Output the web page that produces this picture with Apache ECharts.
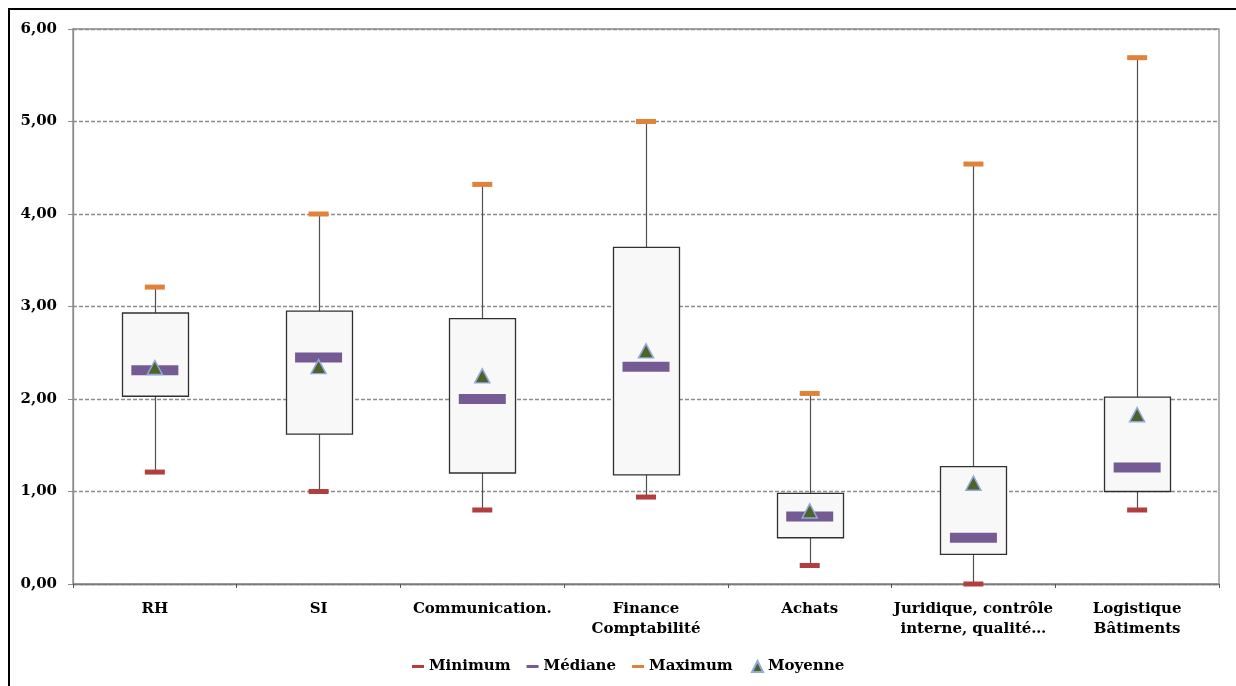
<!DOCTYPE html>
<html>
<head>
<meta charset="utf-8">
<script src="https://cdn.jsdelivr.net/npm/echarts@6/dist/echarts.min.js"></script>
<style>
html,body{margin:0;padding:0;background:#fff;}
#c{width:1236px;height:686px;}
</style>
</head>
<body>
<div id="c"></div>
<script>
var categories = ['RH', 'SI', 'Communication.', 'Finance\nComptabilité', 'Achats', 'Juridique, contrôle\ninterne, qualité…', 'Logistique\nBâtiments'];
var minimum = [1.21, 1.00, 0.80, 0.94, 0.20, 0.00, 0.80];
var q1 = [2.03, 1.62, 1.20, 1.18, 0.50, 0.32, 1.00];
var mediane = [2.31, 2.45, 2.00, 2.35, 0.73, 0.50, 1.26];
var q3 = [2.93, 2.95, 2.87, 3.64, 0.98, 1.27, 2.02];
var maximum = [3.21, 4.00, 4.32, 5.00, 2.06, 4.54, 5.69];
var moyenne = [2.34, 2.35, 2.25, 2.52, 0.79, 1.09, 1.83];
var yTicks = [0, 1, 2, 3, 4, 5, 6];

var FONT = '"DejaVu Serif", serif';
var boxData = categories.map(function (c, i) { return [i, minimum[i], q1[i], q3[i], maximum[i]]; });

var chart = echarts.init(document.getElementById('c'), null, {renderer: 'canvas'});
chart.setOption({
  animation: false,
  backgroundColor: '#ffffff',
  graphic: [{
    type: 'rect', shape: {x: 9, y: 9, width: 1400, height: 900},
    style: {fill: 'none', stroke: '#000', lineWidth: 2}, z: 100, silent: true
  }],
  grid: {left: 73, right: 17, top: 29, bottom: 102, show: true, borderColor: '#8c8c8c', borderWidth: 1.3},
  legend: [{
    data: ['Minimum', 'Médiane', 'Maximum'],
    left: 412, top: 659, padding: 0, itemWidth: 12, itemHeight: 3, itemGap: 16,
    icon: 'rect',
    textStyle: {fontFamily: FONT, fontWeight: 'bold', fontSize: 15, color: '#000'}
  }, {
    data: ['Moyenne'],
    left: 751, top: 659, padding: 0, itemWidth: 11, itemHeight: 11,
    icon: 'triangle',
    textStyle: {fontFamily: FONT, fontWeight: 'bold', fontSize: 15, color: '#000'}
  }],
  xAxis: {
    type: 'category', data: categories,
    axisLine: {lineStyle: {color: '#7a7a7a', width: 1.3}},
    axisTick: {show: true, length: 4, lineStyle: {color: '#555'}},
    axisLabel: {fontFamily: FONT, fontWeight: 'bold', fontSize: 15, color: '#000', margin: 15, lineHeight: 20, interval: 0},
    splitLine: {show: false}
  },
  yAxis: {
    type: 'value', min: 0, max: 6, interval: 1,
    axisLine: {show: true, lineStyle: {color: '#8c8c8c', width: 1.3}},
    axisTick: {show: true, length: 5, lineStyle: {color: '#8c8c8c'}},
    axisLabel: {fontFamily: FONT, fontWeight: 'bold', fontSize: 15, color: '#000', margin: 16,
      formatter: function (v) { return v.toFixed(2).replace('.', ','); }},
    splitLine: {show: true, lineStyle: {color: '#8c8c8c', type: [4, 2], width: 1.3}}
  },
  series: [{
    type: 'custom', name: 'box', data: boxData, z: 1,
    renderItem: function (params, api) {
      var i = api.value(0);
      var pMin = api.coord([i, api.value(1)]);
      var pQ1 = api.coord([i, api.value(2)]);
      var pQ3 = api.coord([i, api.value(3)]);
      var pMax = api.coord([i, api.value(4)]);
      var w = 66;
      var x = Math.round(pMin[0]) + 0.5;
      return {
        type: 'group', children: [{
          type: 'line', shape: {x1: x, y1: pMin[1], x2: x, y2: pMax[1]},
          style: {stroke: '#505050', lineWidth: 1.2}
        }, {
          type: 'rect', shape: {x: Math.round(pQ3[0] - w / 2) + 0.5, y: pQ3[1], width: w, height: pQ1[1] - pQ3[1]},
          style: {fill: '#f8f8f8', stroke: '#303030', lineWidth: 1.3}
        }]
      };
    }
  }, {
    type: 'scatter', name: 'Minimum', data: minimum, symbol: 'rect', symbolSize: [20, 5], z: 3,
    itemStyle: {color: '#b23f3e', opacity: 1}
  }, {
    type: 'scatter', name: 'Médiane', data: mediane, symbol: 'rect', symbolSize: [47, 10], z: 3,
    itemStyle: {color: '#755b94', opacity: 1}
  }, {
    type: 'scatter', name: 'Maximum', data: maximum, symbol: 'rect', symbolSize: [20, 5], z: 3,
    itemStyle: {color: '#e0823a', opacity: 1}
  }, {
    type: 'scatter', name: 'Moyenne', data: moyenne, symbol: 'triangle', symbolSize: [15, 14], z: 4,
    itemStyle: {color: '#4f6228', borderColor: '#8eaadb', borderWidth: 1.5, opacity: 1}
  }]
});
</script>
</body>
</html>
